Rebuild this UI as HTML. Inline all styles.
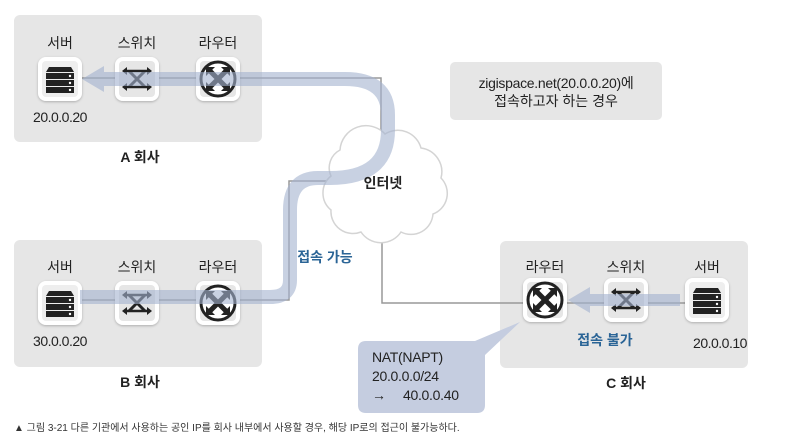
<!DOCTYPE html>
<html><head><meta charset="utf-8"><style>
body{margin:0;background:#fff;}
svg text{font-family:"Liberation Sans","Noto Sans CJK KR",sans-serif;}
</style></head><body>
<svg width="794" height="441" viewBox="0 0 794 441" xmlns="http://www.w3.org/2000/svg">
<defs>
<filter id="sh" x="-20%" y="-20%" width="140%" height="140%"><feDropShadow dx="0" dy="1" stdDeviation="1.2" flood-color="#000" flood-opacity="0.25"/></filter>
<g id="srv">
 <rect x="-22" y="-22" width="44" height="44" rx="8" fill="#fff" filter="url(#sh)"/>
 <rect x="-18" y="-18" width="36" height="36" rx="4" fill="#eee"/>
 <path d="M-11,-12 L11,-12 L14,-7 L-14,-7 Z" fill="#222"/>
 <rect x="-14" y="-6" width="28" height="6" fill="#222"/>
 <rect x="-14" y="1" width="28" height="6" fill="#222"/>
 <rect x="-14" y="8" width="28" height="6" fill="#222"/>
 <circle cx="10" cy="-3" r="1.2" fill="#fff"/><circle cx="10" cy="4" r="1.2" fill="#fff"/><circle cx="10" cy="11" r="1.2" fill="#fff"/>
</g>
<g id="sw">
 <rect x="-22" y="-22" width="44" height="44" rx="8" fill="#fff" filter="url(#sh)"/>
 <rect x="-18" y="-18" width="36" height="36" rx="4" fill="#e6e6e6"/>
 <path d="M-12,-8 L12,-8 M-12,8 L12,8" stroke="#222" stroke-width="2.5"/>
 <path d="M-8,-8 L8,8 M-8,8 L8,-8" stroke="#222" stroke-width="3"/>
 <path d="M-15,-8 L-10,-12 L-10,-4Z M15,-8 L10,-12 L10,-4Z M-15,8 L-10,4 L-10,12Z M15,8 L10,4 L10,12Z" fill="#222"/>
</g>
<g id="rt">
 <rect x="-22" y="-22" width="44" height="44" rx="8" fill="#fff" filter="url(#sh)"/>
 <rect x="-18" y="-18" width="36" height="36" rx="4" fill="#e6e6e6"/>
 <circle r="17" fill="#fff" stroke="#222" stroke-width="3"/>
 <path d="M-8,-8 L8,8 M-8,8 L8,-8" stroke="#222" stroke-width="5"/>
 <path d="M-12,-12 L-3,-12 L-12,-3Z M12,-12 L3,-12 L12,-3Z M-12,12 L-3,12 L-12,3Z M12,12 L3,12 L12,3Z" fill="#222"/>
</g>
</defs>
<rect x="14" y="15" width="248" height="127" rx="6" fill="#e6e6e6"/>
<rect x="14" y="240" width="248" height="127" rx="6" fill="#e6e6e6"/>
<rect x="500" y="241" width="248" height="127" rx="6" fill="#e6e6e6"/>
<rect x="450" y="62" width="212" height="58" rx="5" fill="#e6e6e6"/>
<g stroke="#999" stroke-width="1.5" fill="none">
 <path d="M60,78 L381,78 L381,135"/>
 <path d="M330,181 L289,181 L289,300 L60,300"/>
 <path d="M382,230 L382,303 L707,303"/>
</g>
<g fill="#fff" stroke="#d4d4d4" stroke-width="1.5">
<path d="M340,150 a26,26 0 0 1 45,-16 a24,24 0 0 1 36,14 a24,24 0 0 1 20,30 a22,22 0 0 1 -8,36 a22,22 0 0 1 -32,18 a24,24 0 0 1 -40,0 a22,22 0 0 1 -30,-22 a22,22 0 0 1 0,-34 a20,20 0 0 1 9,-26z"/>
</g>
<use href="#srv" x="60" y="79"/><use href="#sw" x="137" y="79"/><use href="#rt" x="218" y="79"/>
<use href="#srv" x="60" y="303"/><use href="#sw" x="137" y="303"/><use href="#rt" x="218" y="303"/>
<use href="#rt" x="545" y="300"/><use href="#sw" x="626" y="300"/><use href="#srv" x="707" y="300"/>
<g opacity="0.6">
<path d="M100,79 L345,79 Q388,79 388,115 L388,130 Q388,178 330,178 L318,178 Q290,178 290,210 L290,280 Q290,297 270,297 L80,297" fill="none" stroke="#a3b2cf" stroke-width="14"/>
<path d="M82,79 L104,66 L104,92Z" fill="#a3b2cf"/>
<path d="M585,300 L680,300" stroke="#a3b2cf" stroke-width="12"/>
<path d="M568,300 L590,287 L590,313Z" fill="#a3b2cf"/>
</g>
<path d="M366,341 L475,341 L520,322 L485,355 L485,405 Q485,413 477,413 L366,413 Q358,413 358,405 L358,349 Q358,341 366,341Z" fill="#c5cde0"/>
<g font-size="14" fill="#222" text-anchor="middle">
<text x="60" y="48">서버</text><text x="137" y="48">스위치</text><text x="218" y="48">라우터</text>
<text x="60" y="272">서버</text><text x="137" y="272">스위치</text><text x="218" y="272">라우터</text>
<text x="545" y="272">라우터</text><text x="626" y="272">스위치</text><text x="707" y="272">서버</text>
<text x="60" y="122" letter-spacing="-0.5">20.0.0.20</text>
<text x="60" y="346" letter-spacing="-0.5">30.0.0.20</text>
<text x="720" y="348" letter-spacing="-0.5">20.0.0.10</text>
<text x="140" y="162" font-weight="bold">A 회사</text>
<text x="140" y="387" font-weight="bold">B 회사</text>
<text x="626" y="388" font-weight="bold">C 회사</text>
<text x="383" y="188" font-weight="bold">인터넷</text>
<text x="556" y="88" letter-spacing="-0.3">zigispace.net(20.0.0.20)에</text>
<text x="556" y="106">접속하고자 하는 경우</text>
<text x="325" y="262" font-weight="bold" fill="#2a6496">접속 가능</text>
<text x="605" y="345" font-weight="bold" fill="#2a6496">접속 불가</text>
</g>
<g font-size="14" fill="#222" letter-spacing="-0.3">
<text x="372" y="362">NAT(NAPT)</text>
<text x="372" y="381">20.0.0.0/24</text>
<text x="372" y="400">→　 40.0.0.40</text>
</g>
<text x="14" y="431" font-size="10" fill="#333">▲ 그림 3-21 다른 기관에서 사용하는 공인 IP를 회사 내부에서 사용할 경우, 해당 IP로의 접근이 불가능하다.</text>
</svg>
</body></html>
